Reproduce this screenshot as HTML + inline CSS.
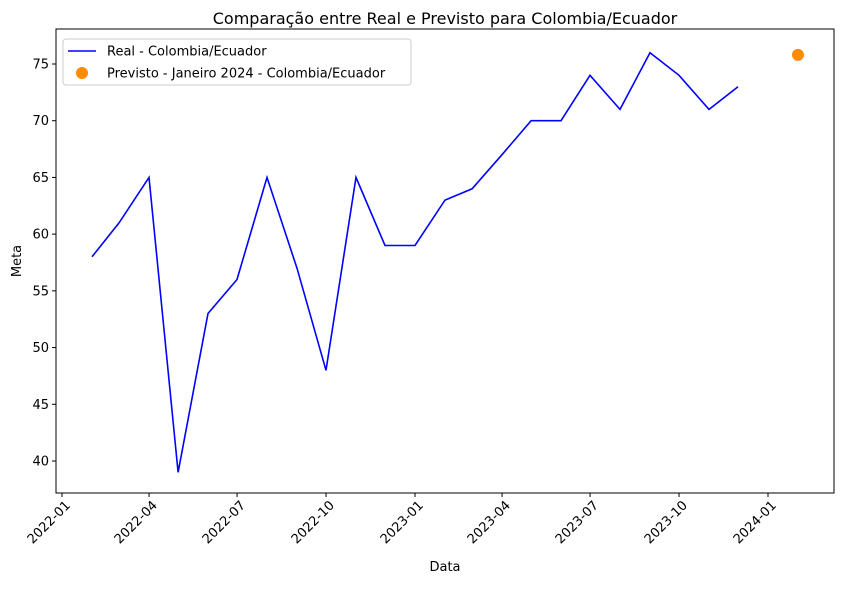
<!DOCTYPE html>
<html><head><meta charset="utf-8"><style>
body{margin:0;background:#fff;font-family:"Liberation Sans","DejaVu Sans",sans-serif}
svg text{font-family:"DejaVu Sans","Liberation Sans",sans-serif}
</style></head><body>
<svg id="c" width="841" height="584" xmlns="http://www.w3.org/2000/svg">
<rect width="841" height="584" fill="#fff"/>
</svg>
<script>
const dates=["2022-02-01","2022-03-01","2022-04-01","2022-05-01","2022-06-01","2022-07-01","2022-08-01","2022-09-01","2022-10-01","2022-11-01","2022-12-01","2023-01-01","2023-02-01","2023-03-01","2023-04-01","2023-05-01","2023-06-01","2023-07-01","2023-08-01","2023-09-01","2023-10-01","2023-11-01","2023-12-01"];
const realValues=[58,61,65,39,53,56,65,57,48,65,59,59,63,64,67,70,70,74,71,76,74,71,73];
const predDate="2024-02-01";
const predValue=75.8;
const yTicks=[40,45,50,55,60,65,70,75];
const xTickDates=["2022-01-01","2022-04-01","2022-07-01","2022-10-01","2023-01-01","2023-04-01","2023-07-01","2023-10-01","2024-01-01"];
const xTickLabels=["2022-01","2022-04","2022-07","2022-10","2023-01","2023-04","2023-07","2023-10","2024-01"];

const svg=document.getElementById('c');
const NS="http://www.w3.org/2000/svg";
const L=56,R=834,T=29,B=493;
const t0=Date.UTC(2022,0,1);
function X(d){const p=d.split('-').map(Number);const days=(Date.UTC(p[0],p[1]-1,p[2])-t0)/86400000;return 62+days*(706/730);}
function Y(v){return 64+(75-v)*(397/35);}
function mk(tag,attrs,txt){const e=document.createElementNS(NS,tag);for(const k in attrs)e.setAttribute(k,attrs[k]);if(txt!==undefined)e.textContent=txt;svg.appendChild(e);return e;}

let e=mk('text',{x:445,y:24,'font-size':16,'text-anchor':'middle',fill:'#000'},'Comparação entre Real e Previsto para Colombia/Ecuador');



yTicks.forEach(v=>{
 const y=Y(v);
 let t=mk('line',{x1:L-4,x2:L,y1:y,y2:y,stroke:'#000','stroke-width':1});
 
 
 let l=mk('text',{x:L-7,y:y+4.5,'font-size':13,'text-anchor':'end'},String(v));
 
 
});
xTickDates.forEach((d,i)=>{
 const x=X(d);
 let t=mk('line',{x1:x,x2:x,y1:B,y2:B+4,stroke:'#000','stroke-width':1});
 
 
 const ax=x+9,ay=B+13;
 let l=mk('text',{x:ax,y:ay,'font-size':13,'text-anchor':'end',transform:`rotate(-45 ${ax} ${ay})`},xTickLabels[i]);
 
 
});
e=mk('text',{x:445,y:571,'font-size':13,'text-anchor':'middle'},'Data');


e=mk('text',{x:21,y:261,'font-size':13,'text-anchor':'middle',transform:'rotate(-90 21 261)'},'Meta');



const pts=dates.map((d,i)=>X(d).toFixed(1)+','+Y(realValues[i]).toFixed(1)).join(' ');
e=mk('polyline',{points:pts,fill:'none',stroke:'#0000ff','stroke-width':1.6});


e=mk('circle',{cx:X(predDate),cy:Y(predValue),r:6,fill:'#ff8c00'});



e=mk('rect',{x:L,y:T,width:R-L,height:B-T,fill:'none',stroke:'#000','stroke-width':1});



const g=document.createElementNS(NS,'g');svg.appendChild(g);


g.innerHTML='<rect x="63" y="39" width="348" height="46" rx="3" fill="#fff" fill-opacity="0.8" stroke="#ccc"/>'+
'<line x1="68" x2="96" y1="51" y2="51" stroke="#0000ff" stroke-width="1.6"/>'+
'<text x="107" y="55.5" font-size="13">Real - Colombia/Ecuador</text>'+
'<circle cx="82" cy="73" r="6" fill="#ff8c00"/>'+
'<text x="107" y="77.5" font-size="13">Previsto - Janeiro 2024 - Colombia/Ecuador</text>';
</script>
</body></html>
